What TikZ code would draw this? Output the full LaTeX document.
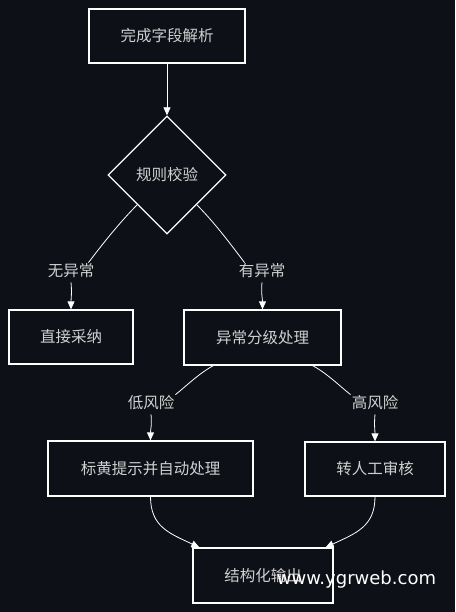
\documentclass[tikz,border=0pt]{standalone}
\usepackage{fontspec}
\setmainfont{Noto Sans CJK SC}
\newfontfamily\markfont{DejaVu Sans}
\usetikzlibrary{shapes.geometric,arrows.meta}
\definecolor{bgdark}{RGB}{13,16,23}
\definecolor{txtgrey}{RGB}{208,208,208}
\tikzset{
  procbox/.style={draw=white, line width=1.3pt, fill=bgdark, text=txtgrey,
    inner sep=0pt, font=\fontsize{15.5}{18}\selectfont},
  decide/.style={procbox, diamond, aspect=1, minimum width=118pt, minimum height=118pt},
  edgelabel/.style={text=txtgrey, inner sep=1pt, font=\fontsize{15.5}{18}\selectfont},
  flow/.style={draw=white, line width=0.8pt},
  flowarrow/.style={flow, -{Triangle[length=8pt,width=7pt]}},
}
\begin{document}
\begin{tikzpicture}[x=1pt,y=-1pt]
            % Background
            \fill[bgdark] (0,0) rectangle (455,612);
            \useasboundingbox (0,0) rectangle (455,612);

            % Steps
            \node[procbox, minimum width=156pt, minimum height=54pt] (parse) at (167,36) {完成字段解析};
            \node[decide] (rule) at (167,175) {规则校验};
            \node[edgelabel] (noerr) at (71,271) {无异常};
            \node[edgelabel] (haserr) at (262,271) {有异常};
            \node[procbox, minimum width=124pt, minimum height=54pt] (accept) at (71,337) {直接采纳};
            \node[procbox, minimum width=157pt, minimum height=55pt] (grade) at (262.5,337.5) {异常分级处理};
            \node[edgelabel] (low) at (151,403) {低风险};
            \node[edgelabel] (high) at (375,403) {高风险};
            \node[procbox, minimum width=205pt, minimum height=55pt] (auto) at (150.5,468.5) {标黄提示并自动处理};
            \node[procbox, minimum width=140pt, minimum height=54pt] (manual) at (375,469) {转人工审核};
            \node[procbox, minimum width=140pt, minimum height=55pt] (output) at (263,575.5) {结构化输出};
            \node[text=white, font=\markfont\fontsize{18}{21}\selectfont] (mark) at (356.5,580) {www.ygrweb.com};

            % Connectors
            \draw[flowarrow] (parse) -- (rule);
            \draw[flow] (rule.south west) .. controls +(-18,18) and +(12,-16) .. ([xshift=-7pt]noerr.north east);
            \draw[flowarrow] ([yshift=-3pt]noerr.south) .. controls +(1,10) and +(0,-10) .. (accept.north);
            \draw[flow] (rule.south east) .. controls +(18,18) and +(-12,-16) .. ([xshift=7pt]haserr.north west);
            \draw[flowarrow] ([yshift=-3pt]haserr.south) .. controls +(-1,10) and +(0,-10) .. (grade.north);
            \draw[flow] ([xshift=30pt]grade.south west) .. controls +(-15,8) and +(8,-6) .. (low.north east);
            \draw[flowarrow] ([yshift=-3pt]low.south) .. controls +(1,10) and +(0,-10) .. (auto.north);
            \draw[flow] ([xshift=-29pt]grade.south east) .. controls +(15,8) and +(-8,-6) .. (high.north west);
            \draw[flowarrow] ([yshift=-3pt]high.south) .. controls +(-1,10) and +(0,-10) .. (manual.north);
            \draw[flowarrow] (auto.south) .. controls +(0,30) and +(-30,-14) .. ([xshift=7pt]output.north west);
            \draw[flowarrow] (manual.south) .. controls +(0,30) and +(30,-14) .. ([xshift=-8pt]output.north east);
\end{tikzpicture}
\end{document}
